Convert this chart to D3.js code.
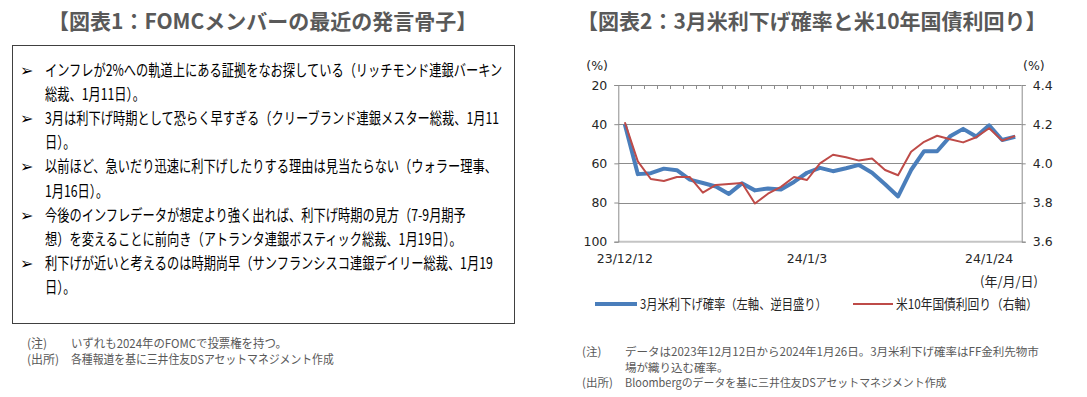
<!DOCTYPE html>
<html>
<head>
<meta charset="utf-8">
<script src="https://cdn.jsdelivr.net/npm/d3@7"></script>
<style>
  body { margin: 0; background: #fff; }
  svg { display: block; font-family: "Noto Sans CJK JP", sans-serif; }
</style>
</head>
<body>
<svg id="svg01" width="1087" height="397"></svg>
<script>
// business days 2023/12/12 - 2024/1/26
const dates = [
  "23/12/12", "23/12/13", "23/12/14", "23/12/15", "23/12/18", "23/12/19",
  "23/12/20", "23/12/21", "23/12/22", "23/12/26", "23/12/27", "23/12/28",
  "23/12/29", "24/1/2", "24/1/3", "24/1/4", "24/1/5", "24/1/8", "24/1/9",
  "24/1/10", "24/1/11", "24/1/12", "24/1/16", "24/1/17", "24/1/18",
  "24/1/19", "24/1/22", "24/1/23", "24/1/24", "24/1/25", "24/1/26",
];
// 3月米利下げ確率 (%), left axis reversed
const cutProb = [
  40, 65.5, 65, 62.7, 63.5, 68.3, 70, 71.8, 75.6, 70.2, 73.8, 72.8, 73.4,
  69.5, 64.8, 62.3, 64, 62.5, 60.8, 64.8, 70.7, 76.9, 63.4, 53.8, 53.8,
  46.2, 42.4, 46.3, 40.6, 48.1, 46.4,
];
// 米10年国債利回り (%), right axis
const ust10y = [
  4.21, 4.01, 3.92, 3.91, 3.93, 3.93, 3.85, 3.89, 3.895, 3.9, 3.795, 3.845,
  3.88, 3.93, 3.915, 4.0, 4.044, 4.031, 4.014, 4.025, 3.966, 3.939, 4.059,
  4.11, 4.141, 4.123, 4.107, 4.133, 4.179, 4.116, 4.14,
];
const leftTicks = [20, 40, 60, 80, 100];
const rightTicks = [3.6, 3.8, 4.0, 4.2, 4.4];
const xLabelDates = ["23/12/12", "24/1/3", "24/1/24"];

const remarks = [
  ["インフレが2%への軌道上にある証拠をなお探している（リッチモンド連銀バーキン", "総裁、1月11日）。"],
  ["3月は利下げ時期として恐らく早すぎる（クリーブランド連銀メスター総裁、1月11", "日）。"],
  ["以前ほど、急いだり迅速に利下げしたりする理由は見当たらない（ウォラー理事、", "1月16日）。"],
  ["今後のインフレデータが想定より強く出れば、利下げ時期の見方（7-9月期予", "想）を変えることに前向き（アトランタ連銀ボスティック総裁、1月19日）。"],
  ["利下げが近いと考えるのは時期尚早（サンフランシスコ連銀デイリー総裁、1月19", "日）。"],
];

const svg = d3.select("#svg01");
const titleColor = "#595959";
const noteColor = "#595959";

// reference font is narrower than Noto: scale a text horizontally
function label(parent, x, y, str, size, opts = {}) {
  const t = parent.append("text")
    .attr("font-size", size)
    .attr("fill", opts.fill || "#262626")
    .attr("text-anchor", opts.anchor || "start")
    .text(str);
  if (opts.bold) t.attr("font-weight", "bold");
  if (opts.family) t.attr("font-family", opts.family);
  const n = t.node().getComputedTextLength();
  let s = opts.scale || 1;
  if (opts.width && n * s > opts.width) s = opts.width / n;
  t.attr("transform", `translate(${x},${y})` + (s !== 1 ? ` scale(${s},1)` : ""));
  return t;
}

// ---------- 図表1 ----------
label(svg, 48, 29, "【図表1：FOMCメンバーの最近の発言骨子】", 21,
  { bold: true, fill: titleColor });

svg.append("rect")
  .attr("x", 12.5).attr("y", 45.5)
  .attr("width", 502).attr("height", 278)
  .attr("fill", "none").attr("stroke", "#404040").attr("stroke-width", 1);

const lineGap = 24.2;
let lineNo = 0;
const remarkG = svg.append("g").attr("id", "remarks");
remarks.forEach((r) => {
  label(remarkG, 20, 70 + lineNo * lineGap + 5.5, "➢", 16,
    { family: "DejaVu Sans", fill: "#000" });
  r.forEach((s) => {
    label(remarkG, 45, 70 + lineNo * lineGap + 5.5, s, 16,
      { fill: "#000", scale: 0.765 });
    lineNo++;
  });
});

const leftNotes = [
  ["(注)", "いずれも2024年のFOMCで投票権を持つ。", 344, 216],
  ["(出所)", "各種報道を基に三井住友DSアセットマネジメント作成", 360, 263],
];
leftNotes.forEach(([a, b, y, w]) => {
  label(svg, 27, y + 4, a, 12, { fill: noteColor });
  label(svg, 71, y + 4, b, 12, { fill: noteColor, width: w });
});

// ---------- 図表2 ----------
label(svg, 577, 29, "【図表2：3月米利下げ確率と米10年国債利回り】", 21,
  { bold: true, fill: titleColor, width: 470 });

const plot = { x0: 618.3, x1: 1021.7, y0: 85, y1: 241.7 };
const x = d3.scaleBand().domain(dates).range([plot.x0, plot.x1]);
const cx = (d) => x(d) + x.bandwidth() / 2;
const yL = d3.scaleLinear().domain([20, 100]).range([plot.y0, plot.y1]);
const yR = d3.scaleLinear().domain([4.4, 3.6]).range([plot.y0, plot.y1]);

const chart = svg.append("g").attr("id", "chart");

// gridlines
chart.append("g")
  .selectAll("line")
  .data(leftTicks.filter((d) => d > 20 && d < 100))
  .join("line")
  .attr("x1", plot.x0).attr("x2", plot.x1)
  .attr("y1", (d) => Math.round(yL(d)) + 0.5).attr("y2", (d) => Math.round(yL(d)) + 0.5)
  .attr("stroke", "#8c8c8c");
chart.append("line")
  .attr("x1", plot.x0).attr("x2", plot.x1)
  .attr("y1", yL(100)).attr("y2", yL(100))
  .attr("stroke", "#c4c4c4").attr("stroke-width", 2);

const axisFont = "DejaVu Sans";
const leftAxis = chart.append("g")
  .attr("transform", `translate(${plot.x0},0)`)
  .call(d3.axisLeft(yL).tickValues(leftTicks).tickSize(4).tickPadding(7));
const rightAxis = chart.append("g")
  .attr("transform", `translate(${plot.x1},0)`)
  .call(d3.axisRight(yR).tickValues(rightTicks).tickFormat(d3.format(".1f")).tickSize(4).tickPadding(7));
[leftAxis, rightAxis].forEach((a) => {
  a.select(".domain").attr("stroke", "#8c8c8c");
  a.selectAll(".tick line").attr("stroke", "#8c8c8c");
  a.selectAll(".tick text")
    .attr("font-family", axisFont).attr("font-size", 12.5).attr("fill", "#262626");
});

// category axis along the top (reversed value axis), ticks between categories
const topAxis = chart.append("g");
topAxis.append("line")
  .attr("x1", plot.x0).attr("x2", plot.x1)
  .attr("y1", plot.y0 + 0.5).attr("y2", plot.y0 + 0.5)
  .attr("stroke", "#8c8c8c");
topAxis.selectAll("line.tk")
  .data(dates.slice(1))
  .join("line")
  .attr("class", "tk")
  .attr("x1", (d) => Math.round(x(d)) + 0.5).attr("x2", (d) => Math.round(x(d)) + 0.5)
  .attr("y1", plot.y0).attr("y2", plot.y0 + 4)
  .attr("stroke", "#8c8c8c");

chart.append("g")
  .selectAll("text")
  .data(xLabelDates)
  .join("text")
  .attr("x", (d) => cx(d)).attr("y", 263)
  .attr("text-anchor", "middle")
  .attr("font-family", axisFont).attr("font-size", 12.5).attr("fill", "#262626")
  .text((d) => d);

label(chart, 608, 70, "(%)", 12.5, { family: axisFont, anchor: "end" });
label(chart, 1023, 70, "(%)", 12.5, { family: axisFont });
label(chart, 1038, 286, "(年/月/日)", 13, { anchor: "end" });

// series
const blue = "#4a7ebb";
const red = "#be4b48";
chart.append("path")
  .datum(dates)
  .attr("fill", "none").attr("stroke", blue).attr("stroke-width", 4)
  .attr("stroke-linejoin", "round")
  .attr("d", d3.line().x((d) => cx(d)).y((d, i) => yL(cutProb[i])));
chart.append("path")
  .datum(dates)
  .attr("fill", "none").attr("stroke", red).attr("stroke-width", 2)
  .attr("stroke-linejoin", "round")
  .attr("d", d3.line().x((d) => cx(d)).y((d, i) => yR(ust10y[i])));

// legend
const legend = svg.append("g").attr("id", "legend");
legend.append("line").attr("x1", 595).attr("x2", 637).attr("y1", 304).attr("y2", 304)
  .attr("stroke", blue).attr("stroke-width", 4);
label(legend, 640, 309, "3月米利下げ確率（左軸、逆目盛り）", 13.5, { width: 187 });
legend.append("line").attr("x1", 853).attr("x2", 893).attr("y1", 304).attr("y2", 304)
  .attr("stroke", red).attr("stroke-width", 2);
label(legend, 896, 309, "米10年国債利回り（右軸）", 13.5, { width: 142 });

const rightNotes = [
  ["(注)", "データは2023年12月12日から2024年1月26日。3月米利下げ確率はFF金利先物市", 352, 435],
  ["", "場が織り込む確率。", 367.5, 200],
  ["(出所)", "Bloombergのデータを基に三井住友DSアセットマネジメント作成", 383, 322],
];
rightNotes.forEach(([a, b, y, w]) => {
  if (a) label(svg, 582, y + 4, a, 11.5, { fill: noteColor });
  label(svg, 625, y + 4, b, 11.5, { fill: noteColor, width: w });
});
</script>
</body>
</html>
